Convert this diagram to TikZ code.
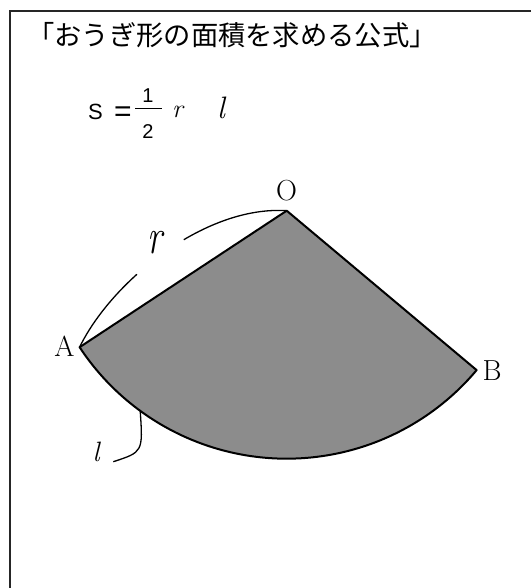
\documentclass[tikz,border=0pt]{standalone}
\usepackage{fontspec}
\usepackage{graphicx}
\newfontfamily\cjk{Noto Sans CJK JP}
\newfontfamily\hv{Liberation Sans}
\begin{document}
\begin{tikzpicture}[x=1pt,y=-1pt,
  frame/.style={line width=1.4pt,black!85},
  sector/.style={draw=black,line width=2pt,fill=black!45,line join=round},
  leader/.style={draw=black,line width=1.3pt},
  lbl/.style={inner sep=0pt,font=\fontsize{29}{29}\selectfont},
  frm/.style={inner sep=0pt,anchor=base}]
\useasboundingbox (0,0) rectangle (531,588);
\draw[frame] (531,11) -- (10,11) -- (10,588);
\node[anchor=west,inner sep=0pt] (title) at (27,35)
  {\cjk\fontsize{27.3}{27.3}\selectfont 「おうぎ形の面積を求める公式」};
% formula
\node[frm] (s) at (95.5,120) {\hv\fontsize{22}{22}\selectfont S};
\node[frm] (eq) at (123,121.5) {\hv\fontsize{30}{30}\selectfont =};
\node[frm] (n1) at (148,103) {\hv\fontsize{20}{20}\selectfont 1};
\node[frm] (n2) at (148,139) {\hv\fontsize{20}{20}\selectfont 2};
\coordinate (b1) at (135,108.3);
\coordinate (b2) at (162,108.3);
\draw[line width=1.2pt] (b1) -- (b2);
\node[frm] (fr) at (177.5,118) {\fontsize{26}{26}\selectfont\itshape r};
\node[frm] (fl) at (221,119) {\fontsize{31}{31}\selectfont\itshape l};
% sector
\coordinate (pO) at (286.7,210.7);
\coordinate (pA) at (79.6,347.2);
\coordinate (pB) at (476.7,370.1);
\path[sector] (pO) -- (pA) arc[start angle=146.6,end angle=40,radius=248] -- cycle;
\node[lbl] (O) at (286.5,191) {O};
\node[lbl] (A) at (64.5,346) {A};
\node[lbl] (B) at (492,371) {B};
% r leader
\coordinate (g1) at (136.9,274.3);
\coordinate (g2) at (183.8,239.7);
\draw[leader] (pA) .. controls (90.8,324) and (110.8,297.8) .. (g1);
\draw[leader] (g2) .. controls (216,220.7) and (252,208.4) .. (pO);
\node[inner sep=0pt] (rl) at (155,243) {\scalebox{1}[1.4]{\fontsize{36}{36}\selectfont\itshape r}};
% l leader
\coordinate (lt) at (140.2,410.8);
\coordinate (le) at (113.3,461.7);
\draw[leader] (lt) .. controls (143,452) .. (le);
\node[inner sep=0pt] (ll) at (96,452) {\fontsize{28}{28}\selectfont\itshape l};
\end{tikzpicture}
\end{document}
